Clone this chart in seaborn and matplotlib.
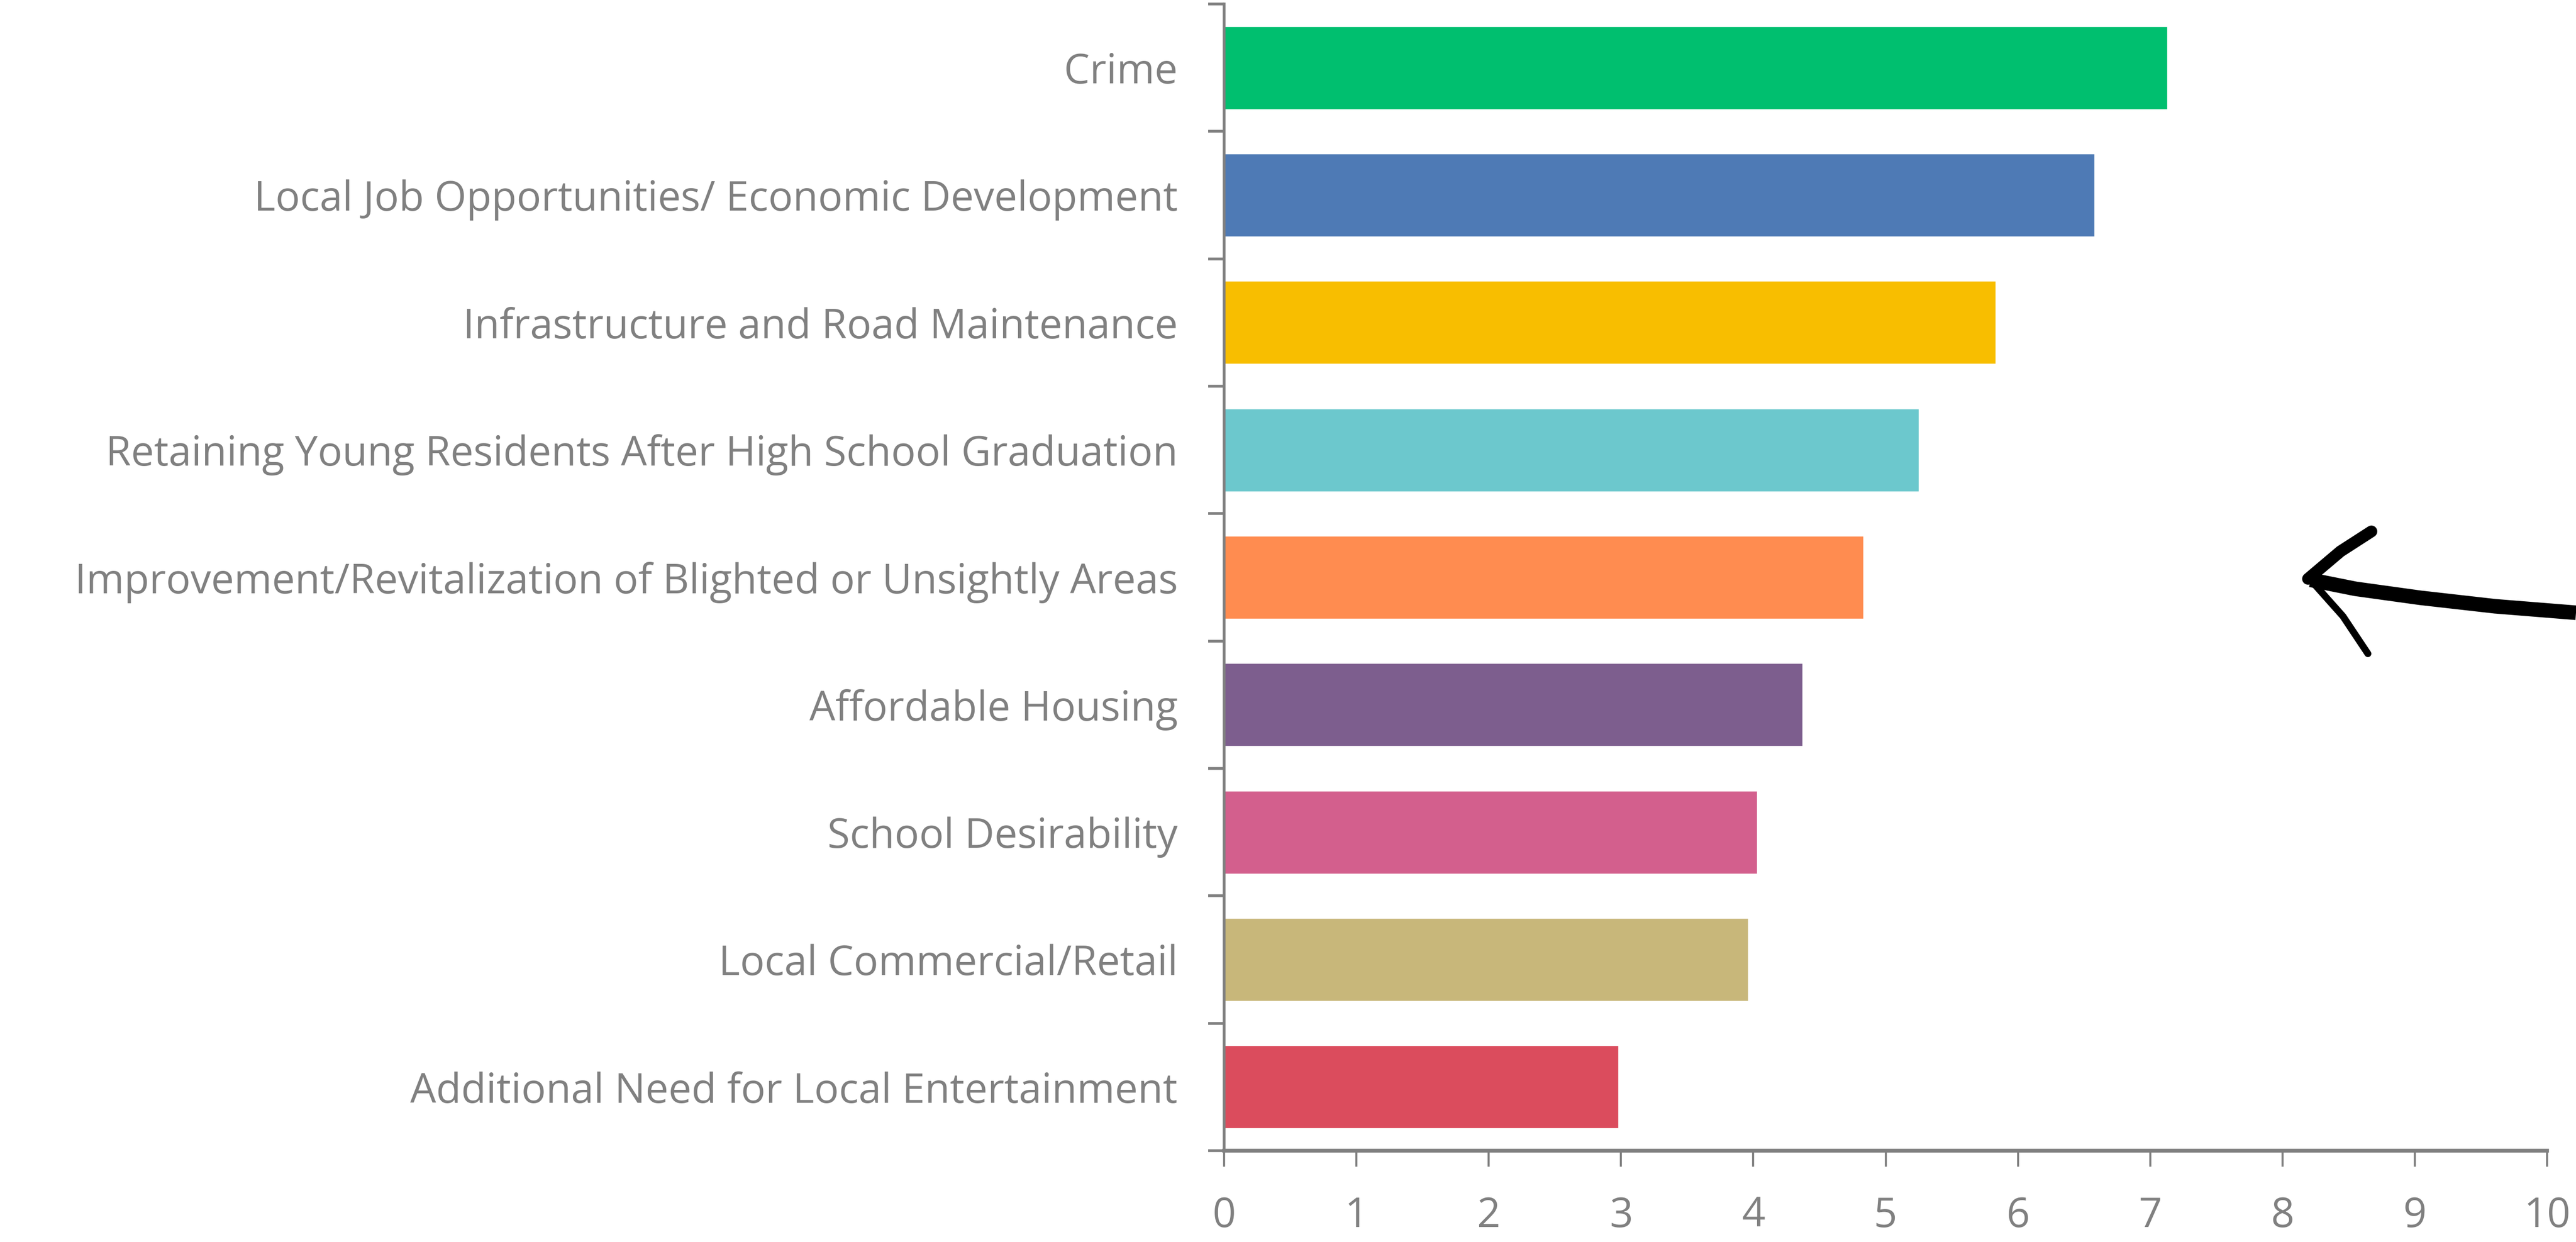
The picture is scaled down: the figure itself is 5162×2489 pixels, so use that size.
import matplotlib
matplotlib.use('Agg')
import matplotlib.pyplot as plt
import seaborn as sns
import pandas as pd
from matplotlib.lines import Line2D

categories = [
    'Crime',
    'Local Job Opportunities/ Economic Development',
    'Infrastructure and Road Maintenance',
    'Retaining Young Residents After High School Graduation',
    'Improvement/Revitalization of Blighted or Unsightly Areas',
    'Affordable Housing',
    'School Desirability',
    'Local Commercial/Retail',
    'Additional Need for Local Entertainment',
]
scores = [7.13, 6.58, 5.83, 5.25, 4.83, 4.37, 4.03, 3.96, 2.98]
colors = ['#00BF6F', '#4E7AB5', '#F8BE00', '#6CC8CD', '#FF8C50',
          '#7D5E8E', '#D35F8D', '#C8B77A', '#DB4C5D']

df = pd.DataFrame({'category': categories, 'score': scores})

sns.set_style('white')
plt.rcParams['font.family'] = ['Open Sans', 'DejaVu Sans']
grey = '#808080'

fig = plt.figure(figsize=(51.62, 24.89), dpi=100)
ax = fig.add_axes([0.4752, 0.0735, 0.9888 - 0.4752, 0.9968 - 0.0735])

sns.barplot(data=df, y='category', x='score', hue='category',
            palette=colors, legend=False, width=0.65, saturation=1, ax=ax)

ax.set_xlim(0, 10)
ax.set_ylim(len(categories) - 0.5, -0.5)
ax.set_xticks(range(0, 11))
ax.set_xticklabels([str(i) for i in range(0, 11)], fontsize=59, color=grey)

# Excel style: ticks between categories, labels in the middle
ax.set_yticks([i - 0.5 for i in range(len(categories) + 1)])
ax.set_yticklabels([])
ax.set_yticks(range(len(categories)), minor=True)
ax.set_yticklabels(categories, minor=True, fontsize=59, color=grey)
ax.tick_params(axis='y', which='minor', left=False, length=0, pad=67)
ax.tick_params(axis='y', which='major', left=True, length=23, width=4,
               color=grey, direction='out')
ax.tick_params(axis='x', bottom=True, length=23, width=3, color=grey,
               direction='out', pad=42)

ax.set_xlabel('')
ax.set_ylabel('')
for side in ['top', 'right']:
    ax.spines[side].set_visible(False)
ax.spines['left'].set_color(grey)
ax.spines['left'].set_linewidth(4)
ax.spines['bottom'].set_color(grey)
ax.spines['bottom'].set_linewidth(5.5)

# hand-drawn arrow pointing at the chart (figure pixel coords)
W, H = 5162.0, 2489.0
def fx(x):
    return x / W
def fy(y):
    return 1 - y / H

shaft_x = [5162, 5000, 4850, 4720, 4630]
shaft_y = [1228, 1215, 1198, 1180, 1162]
fig.add_artist(Line2D([fx(v) for v in shaft_x], [fy(v) for v in shaft_y],
                      color='black', lw=21, solid_capstyle='butt'))
fig.add_artist(Line2D([fx(4625), fx(4690), fx(4752)],
                      [fy(1160), fy(1105), fy(1065)],
                      color='black', lw=17, solid_capstyle='round'))
fig.add_artist(Line2D([fx(4630), fx(4695), fx(4745)],
                      [fy(1162), fy(1235), fy(1310)],
                      color='black', lw=10, solid_capstyle='round'))

fig.savefig('out.png', dpi=100, facecolor='white')
